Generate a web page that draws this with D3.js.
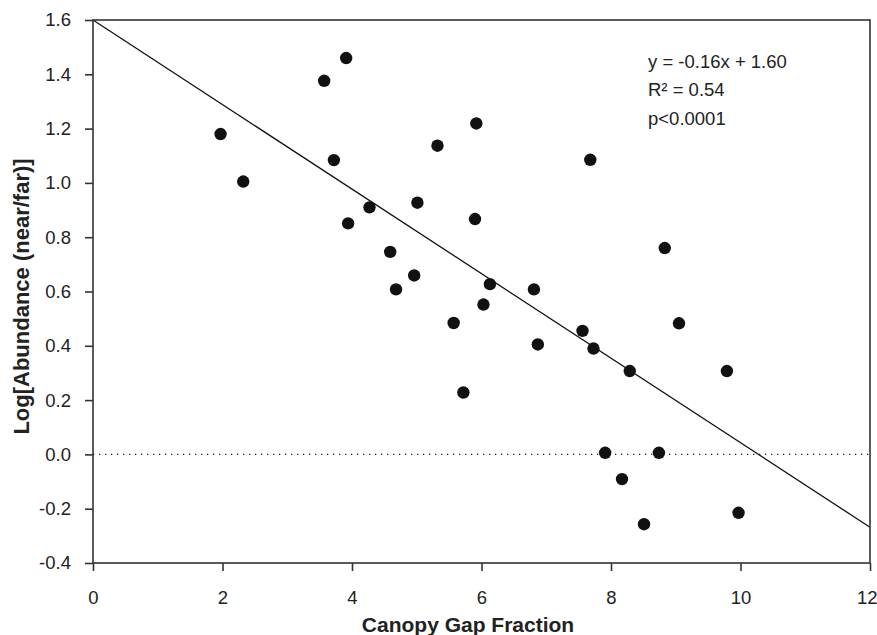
<!DOCTYPE html>
<html>
<head>
<meta charset="utf-8">
<script src="https://cdn.jsdelivr.net/npm/d3@7"></script>
<style>
  body { margin: 0; background: #fff; }
  text { font-family: "Liberation Sans", Arial, sans-serif; fill: #222; }
</style>
</head>
<body>
<div class="canvas"></div>
<script>
// canopy gap fraction vs log abundance
const gapFraction = [1.97, 2.32, 3.57, 3.91, 3.72, 3.94, 4.27, 4.59, 4.68, 4.96, 5.01, 5.32,
    5.92, 5.90, 6.13, 6.81, 6.03, 5.57, 6.87, 7.56, 7.73, 5.72,
    7.68, 8.83, 9.05, 8.29, 9.79, 7.91, 8.74, 8.17, 8.51, 9.97];
const logAbundance = [1.18, 1.005, 1.376, 1.46, 1.084, 0.851, 0.91, 0.746, 0.608, 0.659, 0.927, 1.137,
    1.219, 0.867, 0.627, 0.608, 0.552, 0.484, 0.405, 0.455, 0.39, 0.228,
    1.085, 0.76, 0.483, 0.307, 0.307, 0.006, 0.006, -0.091, -0.257, -0.215];

const xTicks = [0, 2, 4, 6, 8, 10, 12];
const yTicks = [-0.4, -0.2, 0, 0.2, 0.4, 0.6, 0.8, 1.0, 1.2, 1.4, 1.6];

const fitIntercept = 1.6;
const fitSlope = -0.1557;
const statLines = ["y = -0.16x + 1.60", "R² = 0.54", "p<0.0001"];

const width = 877, height = 635;
const margin = {top: 20, right: 7, bottom: 72, left: 93};

const svg = d3.select(".canvas").append('svg')
    .attr('width', width)
    .attr('height', height);

const x = d3.scaleLinear().domain([0, 12]).range([margin.left, width - margin.right]);
const y = d3.scaleLinear().domain([-0.4, 1.6]).range([height - margin.bottom, margin.top]);

// zero reference line
svg.append('line')
    .attr('x1', x(0)).attr('x2', x(12))
    .attr('y1', y(0)).attr('y2', y(0))
    .attr('stroke', '#222')
    .attr('stroke-width', 1.3)
    .attr('stroke-dasharray', '1.3,4.7');

// regression line
svg.append('line')
    .attr('x1', x(0)).attr('y1', y(fitIntercept))
    .attr('x2', x(12)).attr('y2', y(fitIntercept + fitSlope * 12))
    .attr('stroke', '#111')
    .attr('stroke-width', 1.3);

// points
svg.selectAll('circle')
    .data(gapFraction)
    .enter().append('circle')
    .attr('cx', d => x(d))
    .attr('cy', (d, i) => y(logAbundance[i]))
    .attr('r', 6.2)
    .attr('fill', '#111');

// frame
svg.append('rect')
    .attr('x', x(0)).attr('y', y(1.6))
    .attr('width', x(12) - x(0))
    .attr('height', y(-0.4) - y(1.6))
    .attr('fill', 'none')
    .attr('stroke', '#333')
    .attr('stroke-width', 1.6);

const xAxis = svg.append('g')
    .attr('transform', `translate(0,${y(-0.4)})`)
    .call(d3.axisBottom(x).tickValues(xTicks).tickSize(8).tickSizeOuter(0).tickPadding(20).tickFormat(d => d));
const yAxis = svg.append('g')
    .attr('transform', `translate(${x(0)},0)`)
    .call(d3.axisLeft(y).tickValues(yTicks).tickSize(8).tickSizeOuter(0).tickPadding(14).tickFormat(d => d.toFixed(1)));

[xAxis, yAxis].forEach(g => {
    g.select('.domain').remove();
    g.selectAll('line').attr('stroke', '#333').attr('stroke-width', 1.6);
    g.selectAll('text').attr('font-size', 18.5).attr('fill', '#222')
        .style('font-family', '"Liberation Sans", Arial, sans-serif');
});

// last x label sits against the window edge
xAxis.selectAll('.tick text')
    .filter(d => d === 12)
    .attr('text-anchor', 'end')
    .attr('x', width - x(12));

// axis titles
svg.append('text')
    .attr('x', 468)
    .attr('y', 632)
    .attr('text-anchor', 'middle')
    .attr('font-size', 21)
    .attr('font-weight', 'bold')
    .text('Canopy Gap Fraction');

svg.append('text')
    .attr('transform', `translate(28.5,${(y(-0.4) + y(1.6)) / 2 + 5}) rotate(-90)`)
    .attr('text-anchor', 'middle')
    .attr('font-size', 22)
    .attr('font-weight', 'bold')
    .text('Log[Abundance (near/far)]');

// regression stats
svg.selectAll('.stat')
    .data(statLines)
    .enter().append('text')
    .attr('class', 'stat')
    .attr('x', 648)
    .attr('y', (d, i) => 67.5 + i * 28.5)
    .attr('font-size', 18.5)
    .text(d => d);
</script>
</body>
</html>
